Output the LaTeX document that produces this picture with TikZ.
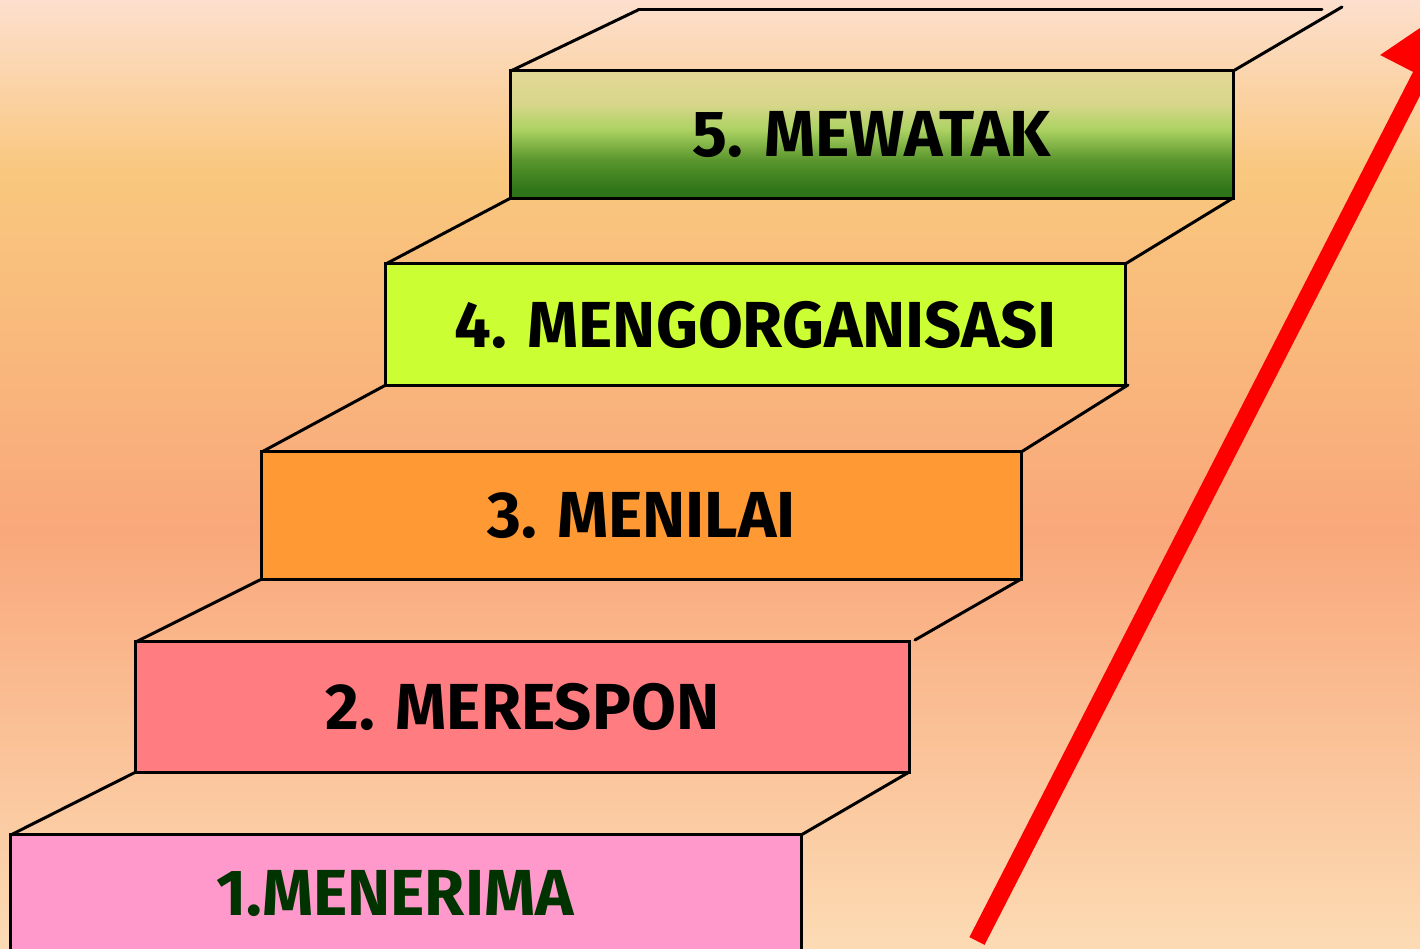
\documentclass[tikz,border=0pt]{standalone}
\usepackage{fontspec}
\usetikzlibrary{arrows.meta}
\newfontfamily\lblfont{Fira Sans}
\definecolor{bgtop}{RGB}{252,223,206}
\definecolor{bgyel}{RGB}{249,199,125}
\definecolor{bgmid}{RGB}{249,168,123}
\definecolor{bgbot}{RGB}{252,219,180}
\definecolor{gtop}{RGB}{226,216,150}
\definecolor{gup}{RGB}{216,214,138}
\definecolor{gmid}{RGB}{172,210,98}
\definecolor{glow}{RGB}{90,150,45}
\definecolor{gbot}{RGB}{46,116,24}
\definecolor{c4}{RGB}{204,255,51}
\definecolor{c3}{RGB}{255,153,51}
\definecolor{c2}{RGB}{255,124,128}
\definecolor{c1}{RGB}{255,153,204}
\definecolor{txtgreen}{RGB}{0,51,0}
\definecolor{arrred}{RGB}{255,0,0}
\pgfdeclareverticalshading{bgshade}{100bp}{color(0bp)=(bgbot); color(25bp)=(bgbot); color(47bp)=(bgmid); color(65.8bp)=(bgyel); color(75bp)=(bgtop); color(100bp)=(bgtop)}
\pgfdeclareverticalshading{greenshade}{100bp}{color(0bp)=(gbot); color(28bp)=(gbot); color(40bp)=(glow); color(52bp)=(gmid); color(62bp)=(gup); color(75bp)=(gtop); color(100bp)=(gtop)}
\tikzset{
  stepbox/.style={draw=black, line width=0.85pt, inner sep=0pt, outer sep=0pt,
    font=\lblfont\bfseries\fontsize{18.5}{22}\selectfont, text=black},
  edge/.style={draw=black, line width=0.85pt, line cap=round},
  arrowline/.style={draw=arrred, line width=0.17cm, -{Triangle[length=0.84cm,width=0.86cm]}}
}
\begin{document}
\begin{tikzpicture}[x=0.01cm,y=-0.01cm]
\useasboundingbox (0,0) rectangle (1420,949);
\clip (0,0) rectangle (1420,949);
\fill[shading=bgshade] (0,0) rectangle (1420,949);

% steps
\node[stepbox, shading=greenshade, minimum width=7.22cm, minimum height=1.27cm] (s5) at (872,134.5) {5. MEWATAK};
\node[stepbox, fill=c4, minimum width=7.39cm, minimum height=1.21cm] (s4) at (755.5,324.5) {4. MENGORGANISASI};
\node[stepbox, fill=c3, minimum width=7.59cm, minimum height=1.27cm] (s3) at (641.5,515.5) {3. MENILAI};
\node[stepbox, fill=c2, minimum width=7.73cm, minimum height=1.30cm] (s2) at (522.5,707) {2. MERESPON};
\node[stepbox, fill=c1, minimum width=7.90cm, minimum height=1.40cm] (s1) at (406,905) {};
\node[font=\lblfont\bfseries\fontsize{18.5}{22}\selectfont, text=txtgreen, inner sep=0pt] (l1) at (395,894) {1.MENERIMA};

% top faces
\coordinate (b5l) at (638,10);
\coordinate (b5r) at (1322,10);
\coordinate (b5e) at (1342,7);
\draw[edge] (s5.north west) -- (b5l);
\draw[edge] (b5l) -- (b5r);
\draw[edge] (s5.north east) -- (b5e);

\draw[edge] (s4.north west) -- (s5.south west);
\draw[edge] (s4.north east) -- (s5.south east);

\coordinate (t3r) at (1128,385);
\draw[edge] (s3.north west) -- (s4.south west);
\draw[edge] (s3.north east) -- (t3r);

\coordinate (t2r) at (915,640);
\draw[edge] (s2.north west) -- (s3.south west);
\draw[edge] (t2r) -- (s3.south east);

\draw[edge] (s1.north west) -- (s2.south west);
\draw[edge] (s1.north east) -- (s2.south east);

% arrow
\coordinate (a0) at (977,941);
\coordinate (a1) at (1459,1);
\draw[arrowline] (a0) -- (a1);
\end{tikzpicture}
\end{document}
